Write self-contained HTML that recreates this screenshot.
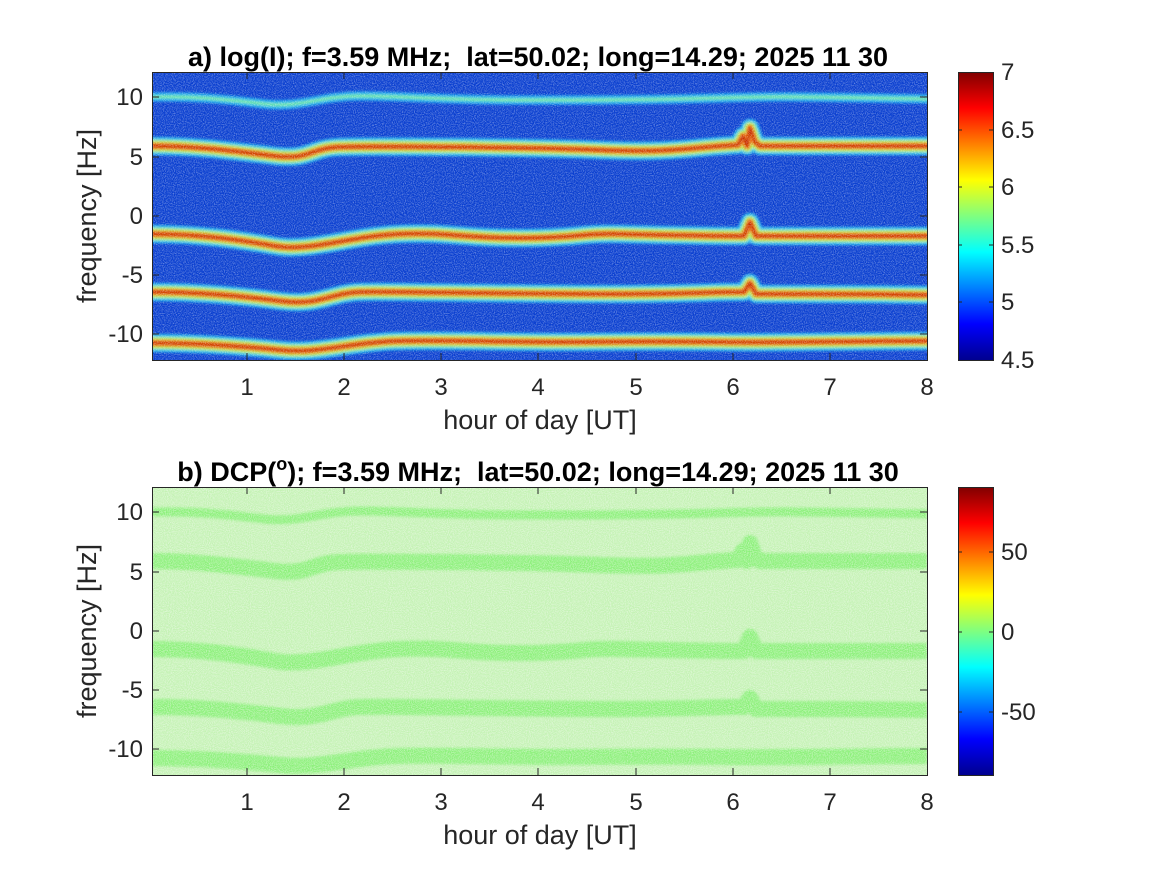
<!DOCTYPE html>
<html><head><meta charset="utf-8"><style>
body{margin:0;background:#fff}
svg{display:block;font-family:"Liberation Sans",Arial,sans-serif}
</style></head><body>
<svg width="1167" height="875" viewBox="0 0 1167 875">
<defs>
<filter id="bl" x="-5%" y="-50%" width="110%" height="200%"><feGaussianBlur stdDeviation="1.2"/></filter>
<filter id="nz" x="0" y="0" width="100%" height="100%">
<feTurbulence type="fractalNoise" baseFrequency="0.9" numOctaves="2" seed="3"/>
<feColorMatrix type="matrix" values="0 0 0 0 1  0 0 0 0 1  0 0 0 0 1  0 0 0 -2.5 1.5"/>
</filter>
<filter id="nz2" x="0" y="0" width="100%" height="100%">
<feTurbulence type="fractalNoise" baseFrequency="0.95" numOctaves="2" seed="7"/>
<feColorMatrix type="matrix" values="0 0 0 0 1  0 0 0 0 1  0 0 0 0 1  0 0 0 -2.5 1.6"/>
</filter>
<linearGradient id="cb1" x1="0" y1="1" x2="0" y2="0">
<stop offset="0" stop-color="#00008f"/><stop offset="0.125" stop-color="#0000ff"/>
<stop offset="0.375" stop-color="#00ffff"/><stop offset="0.625" stop-color="#ffff00"/>
<stop offset="0.875" stop-color="#ff0000"/><stop offset="1" stop-color="#800000"/>
</linearGradient>
<clipPath id="c1"><rect x="152" y="72" width="775" height="288"/></clipPath>
<clipPath id="c2"><rect x="152" y="487" width="775" height="288"/></clipPath>
<g id="bands">
<path id="pA" d="M152 97 C200 96 230 100 265 104 S320 96 360 96 S450 100 520 100 S650 100 720 98 S800 97 927 99"/>
<path id="pB" d="M152 146 C200 146 240 152 275 156 S310 148 340 147 S520 147 600 150 S690 147 738 145 L743 136 L747 146 L750 128 L755 142 L760 146 L927 146"/>
<path id="pC" d="M152 234 C200 234 240 240 275 246 S350 236 400 234 S460 238 520 238 S580 233 620 234 S700 236 744 236 L750 222 L756 236 L927 236"/>
<path id="pD" d="M152 292 C200 292 240 296 280 301 S330 293 360 292 S500 294 600 294 S700 292 744 292 L750 283 L756 294 L780 294 S870 294 927 295"/>
<path id="pE" d="M152 343 C200 343 240 346 280 350 S350 342 400 341 S500 342 560 342 S650 341 720 342 S850 341 927 341"/>
</g>
</defs>
<!-- top plot -->
<g clip-path="url(#c1)">
<rect x="152" y="72" width="775" height="288" fill="#0a3fd0"/>
<g fill="none" filter="url(#bl)" stroke-linecap="round" stroke-linejoin="round">
<use href="#pA" stroke="#1ab0f0" stroke-width="9"/>
<use href="#pA" stroke="#70e8a0" stroke-width="3"/>
<g stroke="#20c0f0" stroke-width="18"><use href="#pB"/><use href="#pC"/><use href="#pD"/><use href="#pE"/></g>
<g stroke="#b0f050" stroke-width="12"><use href="#pB"/><use href="#pC"/><use href="#pD"/><use href="#pE"/></g>
<g stroke="#f07010" stroke-width="7"><use href="#pB"/><use href="#pC"/><use href="#pD"/><use href="#pE"/></g>
<g stroke="#c01800" stroke-width="2.5"><use href="#pB"/><use href="#pC"/><use href="#pD"/><use href="#pE"/></g>
</g>
<rect x="152" y="72" width="775" height="288" filter="url(#nz)" opacity="0.38"/>
</g>
<rect x="152.5" y="72.5" width="775" height="288" fill="none" stroke="#262626"/>
<!-- bottom plot -->
<g clip-path="url(#c2)">
<rect x="152" y="487" width="775" height="288" fill="#c4f2b4"/>
<g fill="none" filter="url(#bl)" stroke="#8cf07a" stroke-linejoin="round" transform="translate(0,415)">
<use href="#pA" stroke-width="9"/>
<use href="#pB" stroke-width="16"/><use href="#pC" stroke-width="16"/><use href="#pD" stroke-width="16"/><use href="#pE" stroke-width="16"/>
</g>
<rect x="152" y="487" width="775" height="288" filter="url(#nz2)" opacity="0.45"/>
</g>
<rect x="152.5" y="487.5" width="775" height="288" fill="none" stroke="#262626"/>
<!-- ticks -->
<g stroke="#262626" stroke-width="1">
<path d="M247 360v-7M344 360v-7M441 360v-7M538 360v-7M636 360v-7M733 360v-7M830 360v-7M247 72v7M344 72v7M441 72v7M538 72v7M636 72v7M733 72v7M830 72v7"/>
<path d="M152 97h7M152 157h7M152 216h7M152 275h7M152 334h7M927 97h-7M927 157h-7M927 216h-7M927 275h-7M927 334h-7"/>
<path d="M247 775v-7M344 775v-7M441 775v-7M538 775v-7M636 775v-7M733 775v-7M830 775v-7M247 487v7M344 487v7M441 487v7M538 487v7M636 487v7M733 487v7M830 487v7"/>
<path d="M152 512h7M152 572h7M152 631h7M152 690h7M152 749h7M927 512h-7M927 572h-7M927 631h-7M927 690h-7M927 749h-7"/>
</g>
<g font-size="24" fill="#262626" text-anchor="middle">
<text x="247" y="395">1</text><text x="344" y="395">2</text><text x="441" y="395">3</text><text x="538" y="395">4</text><text x="636" y="395">5</text><text x="733" y="395">6</text><text x="830" y="395">7</text><text x="927" y="395">8</text>
<text x="247" y="810">1</text><text x="344" y="810">2</text><text x="441" y="810">3</text><text x="538" y="810">4</text><text x="636" y="810">5</text><text x="733" y="810">6</text><text x="830" y="810">7</text><text x="927" y="810">8</text>
<text x="540" y="429" font-size="27">hour of day [UT]</text>
<text x="540" y="844" font-size="27">hour of day [UT]</text>
</g>
<g font-size="24" fill="#262626" text-anchor="end">
<text x="143" y="105">10</text><text x="143" y="165">5</text><text x="143" y="224">0</text><text x="143" y="283">-5</text><text x="143" y="342">-10</text>
<text x="143" y="520">10</text><text x="143" y="580">5</text><text x="143" y="639">0</text><text x="143" y="698">-5</text><text x="143" y="757">-10</text>
</g>
<text transform="translate(96,216) rotate(-90)" font-size="27" fill="#262626" text-anchor="middle">frequency [Hz]</text>
<text transform="translate(96,631) rotate(-90)" font-size="27" fill="#262626" text-anchor="middle">frequency [Hz]</text>
<text x="538" y="66" font-size="27" font-weight="bold" text-anchor="middle" fill="#000" xml:space="preserve">a) log(I); f=3.59 MHz;  lat=50.02; long=14.29; 2025 11 30</text>
<text x="538" y="481" font-size="27" font-weight="bold" text-anchor="middle" fill="#000" xml:space="preserve">b) DCP(<tspan dy="-11" font-size="18">o</tspan><tspan dy="11">); f=3.59 MHz;  lat=50.02; long=14.29; 2025 11 30</tspan></text>
<!-- colorbars -->
<rect x="958" y="72" width="35" height="288" fill="url(#cb1)"/>
<rect x="958.5" y="72.5" width="35" height="288" fill="none" stroke="#262626"/>
<rect x="958" y="487" width="35" height="288" fill="url(#cb1)"/>
<rect x="958.5" y="487.5" width="35" height="288" fill="none" stroke="#262626"/>
<g stroke="#262626"><path d="M993 130h-4M993 187h-4M993 245h-4M993 302h-4M958 130h4M958 187h4M958 245h4M958 302h4M993 552h-4M993 632h-4M993 712h-4M958 552h4M958 632h4M958 712h4"/></g>
<g font-size="24" fill="#262626">
<text x="1001" y="80">7</text><text x="1001" y="138">6.5</text><text x="1001" y="195">6</text><text x="1001" y="253">5.5</text><text x="1001" y="310">5</text><text x="1001" y="368">4.5</text>
<text x="1001" y="560">50</text><text x="1001" y="640">0</text><text x="1001" y="720">-50</text>
</g>
</svg>
</body></html>
